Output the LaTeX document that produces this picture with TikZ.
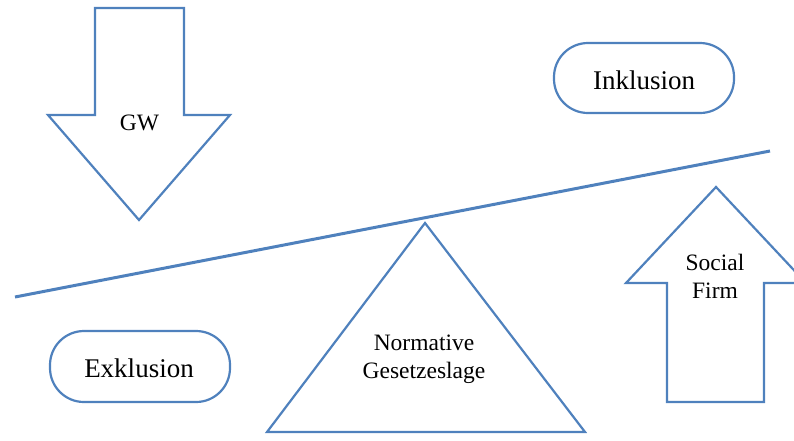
\documentclass[tikz,border=0pt]{standalone}
\usepackage{fontspec}
\setmainfont{Liberation Serif}
\definecolor{shapeblue}{RGB}{79,129,189}
\begin{document}
\begin{tikzpicture}[x=1pt,y=-1pt,
  outline/.style={draw=shapeblue, line width=2.2pt, line join=miter, fill=white},
  pill/.style={draw=shapeblue, line width=2.2pt, rounded corners=34pt, fill=white, inner sep=0pt},
  bigtxt/.style={font=\fontsize{27}{30}\selectfont, text=black},
  smalltxt/.style={font=\fontsize{23.5}{28}\selectfont, text=black, align=center}]
\useasboundingbox (0,0) rectangle (794,440);
\clip (0,0) rectangle (794,440);
% down arrow GW
\draw[outline] (95,8) -- (184,8) -- (184,115) -- (230,115) -- (139,220) -- (48,115) -- (95,115) -- cycle;
\node[smalltxt] (gw) at (139.5,123) {GW};
% up arrow Social Firm
\draw[outline] (716,187) -- (806,283) -- (764,283) -- (764,402) -- (667,402) -- (667,283) -- (626,283) -- cycle;
\node[smalltxt] (sf) at (715,276) {Social\\Firm};
% triangle
\draw[outline] (425,223) -- (585,432) -- (267,432) -- cycle;
\node[smalltxt] (norm) at (424,359) {Normative\\Gesetzeslage};
% lever line
\coordinate (la) at (15,297);
\coordinate (lb) at (770,151);
\draw[draw=shapeblue, line width=3pt] (la) -- (lb);
% pills
\draw[pill] (554,43) rectangle (734,113);
\node[bigtxt] (inkl) at (644,80) {Inklusion};
\draw[pill] (50,331) rectangle (230,402);
\node[bigtxt] (exkl) at (139,368) {Exklusion};
\end{tikzpicture}
\end{document}
